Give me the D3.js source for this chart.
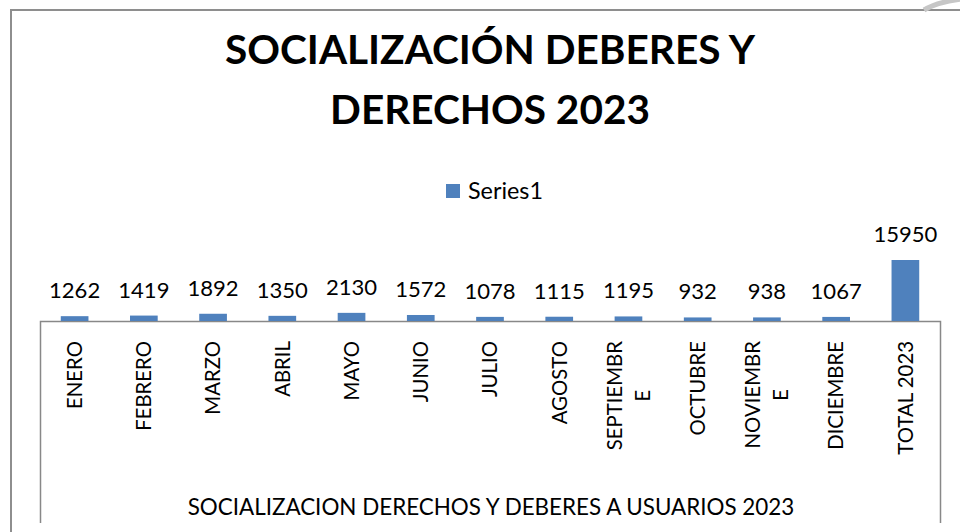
<!DOCTYPE html>
<html><head><meta charset="utf-8">
<script src="https://cdn.jsdelivr.net/npm/d3@7"></script>
<style>html,body{margin:0;padding:0;background:#fff;overflow:hidden}</style>
</head><body><svg id="c" width="960" height="532"></svg>
<script>
// ---- data ----
const chartTitle = ["SOCIALIZACIÓN DEBERES Y", "DERECHOS 2023"];
const seriesName = "Series1";
const axisTitle = "SOCIALIZACION DERECHOS Y DEBERES A USUARIOS 2023";
const categories = ["ENERO","FEBRERO","MARZO","ABRIL","MAYO","JUNIO","JULIO","AGOSTO","SEPTIEMBRE","OCTUBRE","NOVIEMBRE","DICIEMBRE","TOTAL 2023"];
const tickLabels = [["ENERO"],["FEBRERO"],["MARZO"],["ABRIL"],["MAYO"],["JUNIO"],["JULIO"],["AGOSTO"],["SEPTIEMBR","E"],["OCTUBRE"],["NOVIEMBR","E"],["DICIEMBRE"],["TOTAL 2023"]];
const values = [1262,1419,1892,1350,2130,1572,1078,1115,1195,932,938,1067,15950];

// ---- layout ----
const W = 960, H = 532;
const FONT = "Lato, Carlito, Calibri, sans-serif";
const BAR = "#4F81BD";
const plot = {left: 40, right: 940, base: 321, bottom: 523};

const svg = d3.select("#c");
svg.append("rect").attr("width", W).attr("height", H).attr("fill", "#fff");

function fit(text, weight, target) {
  const t = svg.append("text").attr("font-family", FONT).attr("font-weight", weight)
    .attr("font-size", 100).text(text);
  const w = t.node().getComputedTextLength();
  t.remove();
  return 100 * target / w;
}
const titleFs = fit(chartTitle[1], "bold", 320);
const valFs = fit("15950", "normal", 64);
const catFs = fit("ENERO", "normal", 68);
const legFs = fit(seriesName, "normal", 75);
const axFs = fit(axisTitle, "normal", 607);

// outer frame (chart area border, partially visible)
svg.append("path").attr("d", "M11,532 V10 H960").attr("fill", "none")
  .attr("stroke", "#8e8e8e").attr("stroke-width", 2);
svg.append("path").attr("d", "M924,10 C934,4 945,1 962,-1").attr("fill", "none")
  .attr("stroke", "#c6c6c6").attr("stroke-width", 5);

// plot frame
svg.append("path")
  .attr("d", `M${plot.left + 0.5},${plot.bottom} V${plot.base + 0.5} H${plot.right + 0.5} V${plot.bottom}`)
  .attr("fill", "none").attr("stroke", "#888").attr("stroke-width", 1.5);

// scales
const x = d3.scaleBand().domain(categories).range([plot.left, plot.right])
  .paddingInner(0.6).paddingOuter(0.3);
const y = d3.scaleLinear().domain([0, d3.max(values)]).range([plot.base, 260]);

// bars
svg.append("g").selectAll("rect").data(values).join("rect")
  .attr("x", (d, i) => x(categories[i]))
  .attr("y", d => y(d))
  .attr("width", x.bandwidth())
  .attr("height", d => plot.base - y(d))
  .attr("fill", BAR);

// value labels
svg.append("g").selectAll("text").data(values).join("text")
  .attr("x", (d, i) => x(categories[i]) + x.bandwidth() / 2)
  .attr("y", d => y(d) - 18)
  .attr("text-anchor", "middle")
  .attr("font-family", FONT).attr("font-size", valFs).attr("fill", "#000")
  .text(d => d);

// category axis
const gx = svg.append("g").attr("transform", `translate(0,341)`)
  .call(d3.axisBottom(x).tickSize(0).tickPadding(0).tickFormat(() => ""));
gx.select(".domain").remove();
gx.attr("font-family", FONT).attr("font-size", catFs);
const capH = 0.72 * catFs, lineH = 1.38 * catFs;
gx.selectAll(".tick text").each(function(d, i) {
  const t = d3.select(this);
  t.attr("dy", null).attr("y", null).attr("transform", "rotate(-90)")
   .attr("text-anchor", "middle").attr("fill", "#000");
  const lines = tickLabels[i];
  const spans = lines.map(s => t.append("tspan").text(s));
  const maxLen = d3.max(spans, s => s.node().getComputedTextLength());
  const n = lines.length;
  spans.forEach((s, k) => {
    s.attr("x", -maxLen / 2).attr("y", capH / 2 + (k - (n - 1) / 2) * lineH);
  });
});

// title
svg.append("g").selectAll("text").data(chartTitle).join("text")
  .attr("x", 490).attr("y", (d, i) => 64 + i * 60)
  .attr("text-anchor", "middle").attr("font-family", FONT).attr("font-weight", "bold")
  .attr("font-size", titleFs).attr("fill", "#000").text(d => d);

// legend
const lg = svg.append("g");
lg.append("rect").attr("x", 446).attr("y", 184).attr("width", 14).attr("height", 14).attr("fill", BAR);
lg.append("text").attr("x", 468).attr("y", 198.5).attr("font-family", FONT)
  .attr("font-size", legFs).attr("fill", "#000").text(seriesName);

// axis title
svg.append("text").attr("x", 491).attr("y", 515).attr("text-anchor", "middle")
  .attr("font-family", FONT).attr("font-size", axFs).attr("fill", "#000").text(axisTitle);
</script>
</body></html>
